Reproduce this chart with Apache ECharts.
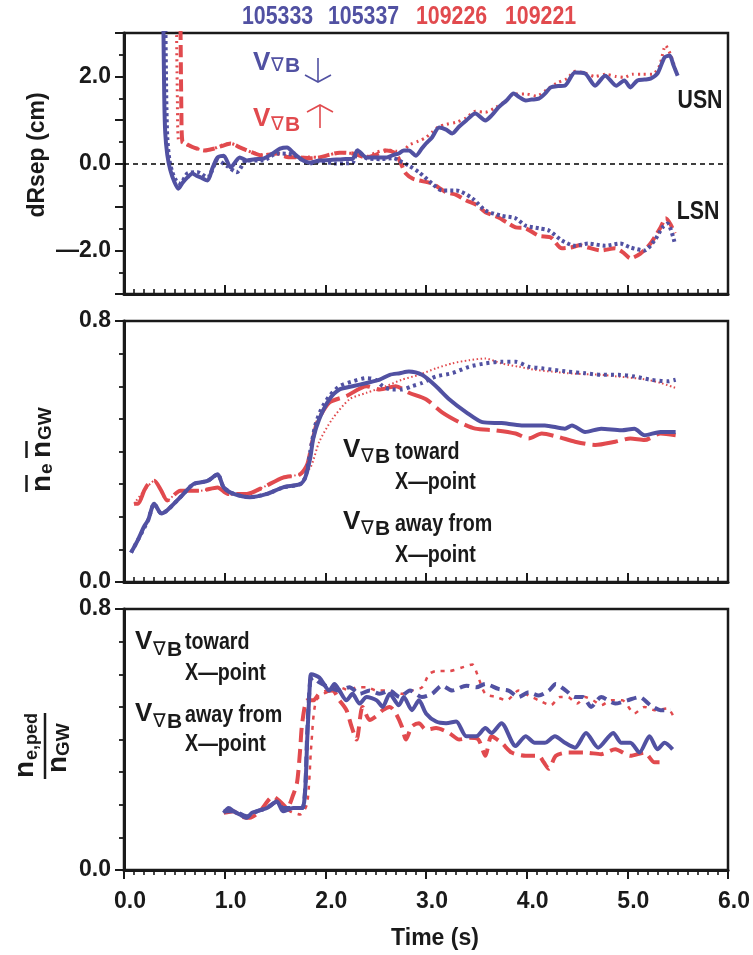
<!DOCTYPE html>
<html>
<head>
<meta charset="utf-8">
<script src="https://cdn.jsdelivr.net/npm/echarts@6/dist/echarts.min.js"></script>
<style>
  html, body { margin: 0; padding: 0; background: #fff; }
  #chart { width: 753px; height: 955px; }
</style>
</head>
<body>
<div id="chart"></div>
<script>
// Shot numbers shown across the top
const shots = ['105333', '105337', '109226', '109221'];
const xTicks = [0, 1, 2, 3, 4, 5, 6];

// ---- Panel 1: dRsep (cm) ----
const drsepT_105333 = [0.39, 0.40, 0.41, 0.43, 0.46, 0.50, 0.54, 0.58, 0.63, 0.68, 0.72, 0.76, 0.83, 0.88, 0.93, 0.99, 1.06, 1.15, 1.22, 1.30, 1.38, 1.47, 1.55, 1.62, 1.68, 1.76, 1.85, 1.94, 2.05, 2.17, 2.27, 2.32, 2.41, 2.51, 2.61, 2.68, 2.73, 2.78, 2.83, 2.90, 2.96, 3.00, 3.06, 3.13, 3.20, 3.26, 3.33, 3.40, 3.49, 3.59, 3.65, 3.72, 3.80, 3.87, 3.93, 3.99, 4.05, 4.12, 4.18, 4.24, 4.31, 4.38, 4.48, 4.58, 4.68, 4.78, 4.89, 4.97, 5.03, 5.10, 5.17, 5.23, 5.30, 5.37, 5.42, 5.46, 5.50];
const drsepV_105333 = [3.5, 1.5, 0.7, 0.2, -0.15, -0.42, -0.58, -0.45, -0.32, -0.23, -0.28, -0.32, -0.39, -0.1, 0.14, 0.18, -0.09, 0.14, 0.07, 0.1, 0.11, 0.22, 0.34, 0.37, 0.25, 0.1, 0.02, 0.07, 0.08, 0.1, 0.11, 0.30, 0.14, 0.14, 0.14, 0.2, 0.23, 0.3, 0.3, 0.18, 0.35, 0.46, 0.6, 0.83, 0.78, 0.69, 0.85, 0.99, 1.15, 0.99, 1.1, 1.29, 1.45, 1.61, 1.52, 1.45, 1.47, 1.49, 1.6, 1.75, 1.78, 1.79, 2.09, 2.07, 1.79, 2.02, 1.79, 1.91, 1.75, 1.91, 1.93, 1.95, 2.07, 2.44, 2.48, 2.25, 2.02];

const drsepT_105337 = [0.41, 0.42, 0.43, 0.45, 0.48, 0.52, 0.56, 0.63, 0.73, 0.83, 0.93, 1.02, 1.12, 1.22, 1.38, 1.52, 1.68, 1.85, 1.94, 2.10, 2.27, 2.32, 2.41, 2.55, 2.68, 2.73, 2.83, 2.93, 3.06, 3.16, 3.30, 3.46, 3.59, 3.75, 3.89, 3.99, 4.12, 4.22, 4.35, 4.48, 4.61, 4.78, 4.93, 5.03, 5.17, 5.27, 5.35, 5.40, 5.47];
const drsepV_105337 = [3.5, 1.5, 0.6, 0.1, -0.2, -0.4, -0.46, -0.23, -0.2, -0.32, 0.07, -0.05, -0.2, 0.07, 0.07, 0.23, 0.2, 0.0, 0.05, 0.0, 0.02, 0.3, 0.12, 0.1, 0.12, 0.07, -0.05, -0.2, -0.46, -0.62, -0.62, -0.8, -1.08, -1.2, -1.26, -1.43, -1.49, -1.54, -1.77, -1.89, -1.84, -1.89, -1.84, -1.93, -2.0, -1.77, -1.47, -1.38, -1.82];

const drsepT_109226 = [0.56, 0.57, 0.58, 0.62, 0.68, 0.73, 0.80, 0.89, 0.97, 1.06, 1.15, 1.28, 1.38, 1.52, 1.62, 1.75, 1.85, 1.94, 2.04, 2.14, 2.27, 2.41, 2.50, 2.61, 2.70, 2.75, 2.80, 2.87, 2.93, 3.06, 3.20, 3.30, 3.40, 3.50, 3.59, 3.72, 3.80, 3.89, 3.99, 4.12, 4.24, 4.35, 4.44, 4.53, 4.61, 4.74, 4.88, 4.96, 5.03, 5.13, 5.23, 5.33, 5.38, 5.43, 5.47];
const drsepV_109226 = [3.5, 1.2, 0.5, 0.45, 0.38, 0.34, 0.3, 0.34, 0.4, 0.46, 0.37, 0.25, 0.18, 0.23, 0.15, 0.14, 0.12, 0.14, 0.2, 0.25, 0.23, 0.14, 0.2, 0.3, 0.23, 0.0, -0.23, -0.35, -0.39, -0.46, -0.66, -0.72, -0.85, -0.95, -1.12, -1.24, -1.35, -1.47, -1.49, -1.66, -1.7, -1.95, -1.93, -1.88, -1.93, -2.0, -1.95, -2.05, -2.18, -2.07, -1.84, -1.47, -1.26, -1.4, -1.61];

const drsepT_109221 = [0.52, 0.53, 0.54, 0.58, 0.65, 0.73, 0.80, 0.89, 0.97, 1.06, 1.15, 1.28, 1.38, 1.52, 1.62, 1.75, 1.85, 1.94, 2.04, 2.14, 2.27, 2.41, 2.50, 2.61, 2.70, 2.78, 2.83, 2.93, 3.00, 3.06, 3.13, 3.20, 3.30, 3.40, 3.49, 3.59, 3.70, 3.80, 3.87, 3.99, 4.10, 4.20, 4.30, 4.40, 4.48, 4.58, 4.68, 4.78, 4.89, 4.97, 5.05, 5.15, 5.25, 5.32, 5.38, 5.43, 5.48];
const drsepV_109221 = [3.5, 1.5, 0.55, 0.48, 0.4, 0.34, 0.3, 0.34, 0.42, 0.46, 0.37, 0.25, 0.2, 0.23, 0.17, 0.14, 0.15, 0.14, 0.2, 0.25, 0.23, 0.16, 0.25, 0.32, 0.28, 0.3, 0.42, 0.52, 0.6, 0.72, 0.85, 0.9, 0.95, 1.05, 1.2, 1.18, 1.3, 1.45, 1.6, 1.6, 1.55, 1.7, 1.85, 1.95, 2.12, 2.08, 2.0, 2.05, 2.0, 1.98, 2.05, 2.05, 2.05, 2.25, 2.71, 2.5, 2.15];

// ---- Panel 2: line-averaged density / Greenwald density ----
const neT_105333 = [0.07, 0.14, 0.20, 0.24, 0.30, 0.37, 0.43, 0.56, 0.69, 0.83, 0.93, 0.99, 1.09, 1.25, 1.42, 1.58, 1.75, 1.80, 1.85, 1.88, 1.94, 2.04, 2.14, 2.27, 2.41, 2.54, 2.64, 2.74, 2.83, 2.96, 3.10, 3.23, 3.40, 3.56, 3.75, 3.95, 4.18, 4.38, 4.45, 4.58, 4.74, 4.94, 5.07, 5.17, 5.33, 5.48];
const neV_105333 = [0.09, 0.13, 0.17, 0.19, 0.24, 0.21, 0.22, 0.26, 0.30, 0.31, 0.33, 0.29, 0.27, 0.26, 0.27, 0.29, 0.30, 0.32, 0.38, 0.44, 0.50, 0.56, 0.59, 0.60, 0.61, 0.62, 0.635, 0.64, 0.645, 0.635, 0.60, 0.56, 0.52, 0.49, 0.487, 0.48, 0.48, 0.47, 0.48, 0.46, 0.47, 0.465, 0.47, 0.45, 0.46, 0.46];

const neT_105337 = [0.07, 0.14, 0.24, 0.30, 0.37, 0.43, 0.56, 0.69, 0.83, 0.93, 0.99, 1.09, 1.25, 1.42, 1.58, 1.75, 1.80, 1.85, 1.90, 1.96, 2.04, 2.14, 2.27, 2.41, 2.50, 2.57, 2.66, 2.76, 2.86, 2.96, 3.10, 3.26, 3.43, 3.59, 3.75, 3.89, 4.02, 4.15, 4.28, 4.41, 4.58, 4.74, 4.91, 5.07, 5.23, 5.40, 5.48];
const neV_105337 = [0.09, 0.13, 0.19, 0.24, 0.21, 0.22, 0.26, 0.30, 0.31, 0.33, 0.29, 0.27, 0.26, 0.27, 0.29, 0.30, 0.32, 0.40, 0.48, 0.53, 0.57, 0.60, 0.615, 0.625, 0.62, 0.60, 0.59, 0.59, 0.60, 0.61, 0.63, 0.64, 0.66, 0.67, 0.675, 0.675, 0.66, 0.655, 0.65, 0.645, 0.64, 0.635, 0.635, 0.63, 0.62, 0.615, 0.62];

const neT_109226 = [0.10, 0.14, 0.20, 0.24, 0.30, 0.37, 0.43, 0.56, 0.76, 0.93, 1.03, 1.22, 1.38, 1.58, 1.75, 1.82, 1.87, 1.92, 2.04, 2.21, 2.41, 2.54, 2.70, 2.83, 3.00, 3.16, 3.33, 3.49, 3.69, 3.89, 4.02, 4.15, 4.31, 4.48, 4.68, 4.88, 5.03, 5.17, 5.33, 5.48];
const neV_109226 = [0.24, 0.24, 0.28, 0.30, 0.31, 0.28, 0.25, 0.28, 0.28, 0.29, 0.27, 0.27, 0.29, 0.32, 0.33, 0.36, 0.43, 0.49, 0.55, 0.57, 0.60, 0.59, 0.60, 0.58, 0.56, 0.52, 0.49, 0.47, 0.465, 0.455, 0.44, 0.455, 0.445, 0.43, 0.42, 0.43, 0.44, 0.435, 0.455, 0.45];

const neT_109221 = [0.10, 0.20, 0.30, 0.43, 0.56, 0.76, 0.93, 1.03, 1.22, 1.38, 1.58, 1.75, 1.85, 1.94, 2.07, 2.24, 2.41, 2.60, 2.76, 2.93, 3.10, 3.26, 3.43, 3.59, 3.75, 3.92, 4.09, 4.25, 4.41, 4.58, 4.74, 4.90, 5.07, 5.20, 5.33, 5.48];
const neV_109221 = [0.24, 0.28, 0.31, 0.25, 0.28, 0.28, 0.29, 0.27, 0.265, 0.29, 0.32, 0.33, 0.35, 0.43, 0.50, 0.56, 0.58, 0.60, 0.62, 0.635, 0.655, 0.67, 0.68, 0.685, 0.67, 0.66, 0.65, 0.645, 0.64, 0.637, 0.635, 0.63, 0.625, 0.62, 0.61, 0.595];

// ---- Panel 3: pedestal density / Greenwald density ----
const pedT_105333 = [0.99, 1.04, 1.09, 1.15, 1.22, 1.27, 1.32, 1.42, 1.52, 1.58, 1.68, 1.77, 1.80, 1.82, 1.85, 1.86, 1.94, 2.04, 2.09, 2.14, 2.21, 2.27, 2.34, 2.41, 2.51, 2.57, 2.64, 2.73, 2.78, 2.86, 2.93, 3.00, 3.10, 3.20, 3.30, 3.40, 3.50, 3.59, 3.65, 3.75, 3.89, 3.99, 4.08, 4.18, 4.28, 4.38, 4.48, 4.59, 4.71, 4.86, 4.94, 5.03, 5.12, 5.22, 5.30, 5.37, 5.45];
const pedV_105333 = [0.175, 0.19, 0.18, 0.17, 0.16, 0.175, 0.18, 0.19, 0.21, 0.18, 0.19, 0.19, 0.245, 0.40, 0.59, 0.60, 0.59, 0.55, 0.57, 0.55, 0.52, 0.54, 0.51, 0.53, 0.52, 0.50, 0.54, 0.505, 0.53, 0.49, 0.52, 0.48, 0.455, 0.45, 0.455, 0.41, 0.41, 0.435, 0.42, 0.45, 0.38, 0.41, 0.39, 0.39, 0.41, 0.39, 0.375, 0.42, 0.375, 0.42, 0.39, 0.39, 0.36, 0.41, 0.37, 0.39, 0.37];

const pedT_105337 = [0.99, 1.09, 1.22, 1.32, 1.42, 1.52, 1.58, 1.68, 1.77, 1.80, 1.82, 1.85, 1.88, 1.94, 2.04, 2.14, 2.24, 2.34, 2.44, 2.54, 2.64, 2.74, 2.84, 2.96, 3.06, 3.16, 3.26, 3.40, 3.50, 3.59, 3.72, 3.82, 3.92, 4.02, 4.12, 4.22, 4.29, 4.39, 4.48, 4.56, 4.64, 4.74, 4.88, 5.00, 5.12, 5.23, 5.33, 5.43];
const pedV_105337 = [0.18, 0.18, 0.165, 0.18, 0.19, 0.21, 0.19, 0.19, 0.19, 0.25, 0.42, 0.58, 0.59, 0.575, 0.56, 0.55, 0.56, 0.54, 0.55, 0.54, 0.55, 0.53, 0.55, 0.53, 0.54, 0.565, 0.55, 0.565, 0.56, 0.57, 0.555, 0.55, 0.53, 0.545, 0.535, 0.55, 0.57, 0.55, 0.53, 0.53, 0.50, 0.53, 0.51, 0.52, 0.53, 0.505, 0.49, 0.49];

const pedT_109226 = [0.99, 1.09, 1.15, 1.25, 1.35, 1.48, 1.55, 1.62, 1.68, 1.72, 1.75, 1.77, 1.82, 1.88, 1.94, 2.07, 2.14, 2.21, 2.26, 2.31, 2.37, 2.44, 2.50, 2.57, 2.64, 2.70, 2.76, 2.80, 2.86, 2.93, 3.00, 3.10, 3.23, 3.33, 3.43, 3.52, 3.59, 3.65, 3.75, 3.85, 3.99, 4.12, 4.17, 4.22, 4.29, 4.41, 4.58, 4.74, 4.88, 5.03, 5.17, 5.27, 5.32];
const pedV_109226 = [0.175, 0.18, 0.165, 0.16, 0.18, 0.225, 0.21, 0.19, 0.23, 0.27, 0.37, 0.45, 0.52, 0.52, 0.54, 0.55, 0.52, 0.49, 0.44, 0.40, 0.50, 0.46, 0.47, 0.49, 0.50, 0.48, 0.44, 0.40, 0.44, 0.45, 0.43, 0.435, 0.42, 0.40, 0.405, 0.40, 0.35, 0.41, 0.39, 0.36, 0.35, 0.35, 0.33, 0.31, 0.35, 0.36, 0.36, 0.355, 0.37, 0.35, 0.36, 0.33, 0.33];

const pedT_109221 = [1.55, 1.65, 1.75, 1.82, 1.86, 1.91, 2.04, 2.14, 2.24, 2.31, 2.41, 2.51, 2.61, 2.76, 2.86, 2.96, 3.03, 3.10, 3.23, 3.35, 3.46, 3.52, 3.59, 3.70, 3.80, 3.92, 4.02, 4.12, 4.24, 4.33, 4.41, 4.50, 4.58, 4.66, 4.74, 4.84, 4.95, 5.07, 5.17, 5.27, 5.40, 5.46];
const pedV_109221 = [0.20, 0.18, 0.17, 0.205, 0.38, 0.52, 0.55, 0.56, 0.55, 0.56, 0.56, 0.55, 0.55, 0.54, 0.55, 0.56, 0.60, 0.61, 0.61, 0.62, 0.63, 0.59, 0.54, 0.53, 0.52, 0.55, 0.535, 0.52, 0.505, 0.53, 0.53, 0.51, 0.53, 0.52, 0.505, 0.52, 0.52, 0.48, 0.50, 0.49, 0.495, 0.47];

// ---- styling ----
const BLUE = '#5151a2';
const RED = '#e14a4e';
const INK = '#1a1a1a';
const SANS = "'Liberation Sans', Arial, Helvetica, sans-serif";
const NARROW_SX = 0.82;   // horizontal squeeze used for the condensed lettering

const chart = echarts.init(document.getElementById('chart'), null, { renderer: 'canvas' });

const pairs = (t, v) => t.map((x, i) => [x, v[i]]);

const grids = [
  { left: 124, top: 33, width: 604, height: 261 },
  { left: 124, top: 321, width: 604, height: 261 },
  { left: 124, top: 609, width: 604, height: 261 }
].map(g => Object.assign(g, { show: true, borderColor: INK, borderWidth: 2.5, backgroundColor: 'transparent', containLabel: false }));

function xAxisFor(idx, showLabels, ticksInside) {
  return {
    type: 'value', gridIndex: idx, min: 0, max: 6, interval: 1,
    axisLine: { show: true, onZero: false, lineStyle: { color: INK, width: 3 } },
    axisTick: { show: true, inside: ticksInside, length: 9, lineStyle: { color: INK, width: 2 } },
    minorTick: { show: true, splitNumber: 10, length: 5, lineStyle: { color: INK, width: 1.6 } },
    splitLine: { show: false },
    axisLabel: {
      show: showLabels, margin: 20, color: INK, fontFamily: SANS, fontWeight: 'bold', fontSize: 23,
      padding: [0, 0, 0, 12],
      formatter: v => xTicks.includes(v) ? v.toFixed(1) : ''
    }
  };
}

function yAxisFor(idx, min, max, interval, minorSplit, fmt) {
  return {
    type: 'value', gridIndex: idx, min, max, interval,
    axisLine: { show: true, onZero: false, lineStyle: { color: INK, width: 3 } },
    axisTick: { show: true, inside: false, length: 9, lineStyle: { color: INK, width: 2 } },
    minorTick: { show: true, splitNumber: minorSplit, length: 5, lineStyle: { color: INK, width: 1.8 } },
    splitLine: { show: false },
    axisLabel: { show: true, margin: 13, color: INK, fontFamily: SANS, fontWeight: 'bold', fontSize: 23, formatter: fmt }
  };
}

const topFmt = v => (v === 2 ? '2.0' : v === 0 ? '0.0' : v === -2 ? '\u20142.0' : '');
const fracFmt = v => (Math.abs(v) < 1e-9 ? '0.0' : Math.abs(v - 0.8) < 1e-9 ? '0.8' : '');

function line(idx, t, v, color, width, type, z) {
  return {
    type: 'line', xAxisIndex: idx, yAxisIndex: idx,
    data: pairs(t, v), showSymbol: false, symbol: 'none', clip: true,
    smooth: 0.25, z: z,
    lineStyle: { color, width, type, cap: 'butt', join: 'round' },
    silent: true, animation: false
  };
}

const series = [
  // panel 1
  line(0, drsepT_109221, drsepV_109221, RED, 3, [2, 4], 2),
  line(0, drsepT_109226, drsepV_109226, RED, 4, [12, 5], 3),
  line(0, drsepT_105337, drsepV_105337, BLUE, 4, [3, 3], 4),
  Object.assign(line(0, drsepT_105333, drsepV_105333, BLUE, 4, 'solid', 5), {
    markLine: {
      silent: true, symbol: ['none', 'none'], animation: false,
      label: { show: false },
      lineStyle: { color: '#000', type: [5, 4], width: 1.6 },
      data: [{ yAxis: 0 }]
    }
  }),
  // panel 2
  line(1, neT_109221, neV_109221, RED, 2, [1.5, 2.5], 2),
  line(1, neT_109226, neV_109226, RED, 4, [26, 7], 3),
  line(1, neT_105337, neV_105337, BLUE, 4, [3, 4], 4),
  line(1, neT_105333, neV_105333, BLUE, 4, 'solid', 5),
  // panel 3
  line(2, pedT_109221, pedV_109221, RED, 2.5, [4, 6], 2),
  line(2, pedT_109226, pedV_109226, RED, 4, [14, 7], 3),
  line(2, pedT_105337, pedV_105337, BLUE, 4, [10, 6], 4),
  line(2, pedT_105333, pedV_105333, BLUE, 4, 'solid', 5)
];

// text helpers for the annotation layer
function txt(x, y, s, size, color, family, weight, align, sx) {
  return {
    type: 'text', x, y, scaleX: sx || 1, silent: true, z: 100,
    style: { text: s, fill: color, fontSize: size, fontFamily: family || SANS, fontWeight: weight || 'bold',
             align: align || 'left', verticalAlign: 'middle' }
  };
}
const narrow = (x, y, s, size, color, align) => txt(x, y, s, size, color, SANS, 'bold', align || 'left', NARROW_SX);
function seg(x1, y1, x2, y2, color, w) {
  return { type: 'line', silent: true, z: 100, shape: { x1, y1, x2, y2 }, style: { stroke: color, lineWidth: w } };
}
function poly(points, color, w) {
  return { type: 'polyline', silent: true, z: 100, shape: { points }, style: { stroke: color, lineWidth: w, fill: null } };
}
// V with the grad-B subscript
function vGradB(x, y, color, sub) {
  return [
    txt(x, y, 'V', 26, color, SANS),
    txt(x + 18, y + sub, '\u2207', 19, color, "'DejaVu Sans', sans-serif", 'normal'),
    txt(x + 32, y + sub, 'B', 21, color, SANS)
  ];
}

const shotX = [242, 328, 416, 505];
const shotColors = [BLUE, BLUE, RED, RED];

const graphics = [
  // shot numbers
  ...shots.map((s, i) => narrow(shotX[i], 17, s, 26, shotColors[i])),

  // panel 1 annotations
  ...vGradB(253, 63, BLUE, 3),
  seg(318, 58, 318, 82, BLUE, 1.6),
  poly([[305, 75], [318, 82], [331, 75]], BLUE, 1.6),
  ...vGradB(253, 119, RED, 6),
  seg(320, 105, 320, 128, RED, 1.6),
  poly([[307, 112], [320, 105], [333, 112]], RED, 1.6),
  narrow(700, 101, 'USN', 26, INK, 'center'),
  narrow(698, 212, 'LSN', 26, INK, 'center'),

  // panel 2 annotations
  ...vGradB(343, 450, INK, 7),
  narrow(395, 452, 'toward', 24, INK),
  narrow(395, 482, 'X\u2014point', 24, INK),
  ...vGradB(343, 522, INK, 7),
  narrow(395, 524, 'away from', 24, INK),
  narrow(395, 555, 'X\u2014point', 24, INK),

  // panel 3 annotations
  ...vGradB(135, 642, INK, 8),
  narrow(185, 642, 'toward', 24, INK),
  narrow(185, 673, 'X\u2014point', 24, INK),
  ...vGradB(135, 714, INK, 8),
  narrow(185, 715, 'away from', 24, INK),
  narrow(185, 744, 'X\u2014point', 24, INK),

  // axis titles
  { type: 'group', x: 38, y: 155, rotation: Math.PI / 2, silent: true, children: [
      txt(0, 0, 'dRsep (cm)', 23, INK, SANS, 'bold', 'center')
  ] },
  { type: 'group', x: 41, y: 451, rotation: Math.PI / 2, silent: true, children: [
      txt(-41, 1, 'n', 28, INK, SANS),
      seg(-41, -14.5, -24, -14.5, INK, 2.5),
      txt(-23, 6, 'e', 19, INK, SANS),
      txt(-7, 1, 'n', 28, INK, SANS),
      seg(-7, -14.5, 10, -14.5, INK, 2.5),
      txt(11, 5, 'GW', 19, INK, SANS)
  ] },
  { type: 'group', x: 45, y: 746, rotation: Math.PI / 2, silent: true, children: [
      txt(-32, -20, 'n', 28, INK, SANS),
      txt(-14, -13, 'e,ped', 18, INK, SANS),
      seg(-33, 0, 33, 0, INK, 2.5),
      txt(-27, 13, 'n', 28, INK, SANS),
      txt(-10, 19, 'GW', 19, INK, SANS)
  ] },
  txt(435, 939, 'Time (s)', 23, INK, SANS, 'bold', 'center')
];

chart.setOption({
  animation: false,
  backgroundColor: '#ffffff',
  grid: grids,
  xAxis: [xAxisFor(0, false, true), xAxisFor(1, false, true), xAxisFor(2, true, false)],
  yAxis: [
    yAxisFor(0, -3, 3, 1, 2, topFmt),
    yAxisFor(1, 0, 0.8, 0.8, 8, fracFmt),
    yAxisFor(2, 0, 0.8, 0.8, 8, fracFmt)
  ],
  series,
  graphic: graphics
});
</script>
</body>
</html>
